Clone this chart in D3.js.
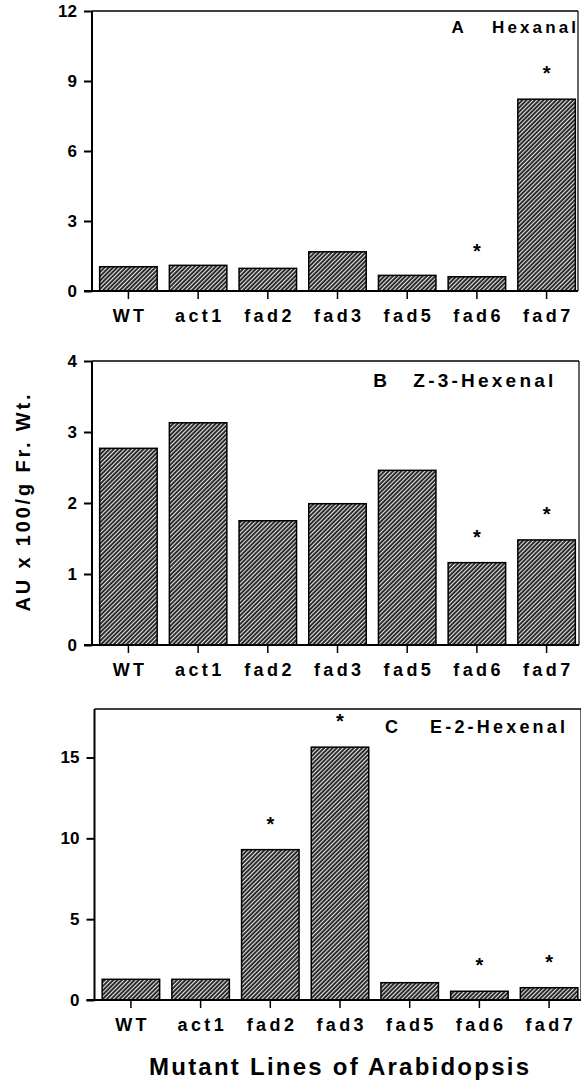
<!DOCTYPE html>
<html>
<head>
<meta charset="utf-8">
<script src="https://cdn.jsdelivr.net/npm/d3@7"></script>
<style>
  body { margin: 0; background: #fff; }
  svg { display: block; font-family: "Liberation Sans", Arial, Helvetica, sans-serif; font-weight: bold; }
</style>
</head>
<body>
<svg id="chart"></svg>
<script>
// mutant lines on the x axis
const categories = ["WT", "act1", "fad2", "fad3", "fad5", "fad6", "fad7"];

// AU x 100/g Fr. Wt.
const hexanal = [1.04, 1.10, 0.97, 1.68, 0.67, 0.61, 8.22];
const z3Hexenal = [2.77, 3.13, 1.75, 1.99, 2.46, 1.16, 1.48];
const e2Hexenal = [1.28, 1.28, 9.30, 15.64, 1.07, 0.54, 0.76];

// asterisks (significant difference)
const starsA = [false, false, false, false, false, true, true];
const starsB = [false, false, false, false, false, true, true];
const starsC = [false, false, true, true, false, true, true];

// y tick labels
const ticksA = [0, 3, 6, 9, 12];
const ticksB = [0, 1, 2, 3, 4];
const ticksC = [0, 5, 10, 15];

const width = 581;
const height = 1081;
const font = "'Liberation Sans', Arial, Helvetica, sans-serif";

const svg = d3.select("#chart")
    .attr("width", width)
    .attr("height", height);

// hatch pattern: dark bars with thin light diagonals
const defs = svg.append("defs");
const pat = defs.append("pattern")
    .attr("id", "hatch")
    .attr("patternUnits", "userSpaceOnUse")
    .attr("width", 3)
    .attr("height", 3)
    .attr("patternTransform", "rotate(45)");
pat.append("rect").attr("width", 3).attr("height", 3).attr("fill", "#1e1e1e");
pat.append("line")
    .attr("x1", 0.6).attr("y1", 0).attr("x2", 0.6).attr("y2", 3)
    .attr("stroke", "#f0f0f0").attr("stroke-width", 1.1);

const panels = [
    { values: hexanal, stars: starsA, ticks: ticksA, domain: [0, 12],
      left: 92, rangeEnd: 583, bottom: 291, top: 11, right: 578,
      letter: "A", name: "Hexanal", letterX: 451.5, nameX: 492, nameLen: 84, titleY: 33.3, titleSize: 17 },
    { values: z3Hexenal, stars: starsB, ticks: ticksB, domain: [0, 4],
      left: 92, rangeEnd: 583, bottom: 645, top: 361, right: 579,
      letter: "B", name: "Z-3-Hexenal", letterX: 373.3, nameX: 413.3, nameLen: 140, titleY: 386.7, titleSize: 19 },
    { values: e2Hexenal, stars: starsC, ticks: ticksC, domain: [0, 18],
      left: 94.5, rangeEnd: 585.5, bottom: 1000, top: 709, right: 581,
      letter: "C", name: "E-2-Hexenal", letterX: 385, nameX: 430, nameLen: 135, titleY: 732.7, titleSize: 18 }
];

panels.forEach(function (p) {
    const g = svg.append("g");

    const x = d3.scaleBand()
        .domain(categories)
        .range([p.left, p.rangeEnd])
        .paddingInner(0.175)
        .paddingOuter(0.11);

    const y = d3.scaleLinear()
        .domain(p.domain)
        .range([p.bottom, p.top]);

    const data = categories.map((c, i) => ({ cat: c, value: p.values[i], star: p.stars[i] }));

    // bars
    g.selectAll(".bar")
        .data(data)
        .enter()
        .append("rect")
        .attr("class", "bar")
        .attr("x", d => x(d.cat))
        .attr("y", d => y(d.value))
        .attr("width", x.bandwidth())
        .attr("height", d => y(0) - y(d.value))
        .attr("fill", "url(#hatch)")
        .attr("stroke", "#000")
        .attr("stroke-width", 1.5);

    // asterisks
    g.selectAll(".star")
        .data(data.filter(d => d.star))
        .enter()
        .append("text")
        .attr("class", "star")
        .attr("x", d => x(d.cat) + x.bandwidth() / 2)
        .attr("y", d => y(d.value) - 19)
        .attr("text-anchor", "middle")
        .style("font-size", "20px")
        .text("*");

    // frame (top and right)
    g.append("line")
        .attr("x1", p.left).attr("x2", p.right)
        .attr("y1", p.top).attr("y2", p.top)
        .attr("stroke", "#000").attr("stroke-width", 1.5);
    g.append("line")
        .attr("x1", p.right).attr("x2", p.right)
        .attr("y1", p.top).attr("y2", p.bottom)
        .attr("stroke", "#000").attr("stroke-width", 1.2);

    // y axis
    const ya = g.append("g")
        .attr("transform", `translate(${p.left}, 0)`)
        .attr("font-size", 17)
        .attr("font-family", font)
        .attr("font-weight", "bold")
        .call(d3.axisLeft(y).tickValues(p.ticks).tickFormat(d3.format("d")).tickSize(8).tickPadding(7));
    ya.attr("font-size", 17).attr("font-family", font).attr("font-weight", "bold");
    ya.select(".domain").remove();
    ya.selectAll("line").attr("stroke-width", 2);
    ya.selectAll("text").attr("fill", "#000");
    g.append("line")
        .attr("x1", p.left).attr("x2", p.left)
        .attr("y1", p.top).attr("y2", p.bottom)
        .attr("stroke", "#000").attr("stroke-width", 2);

    // x axis
    const xa = g.append("g")
        .attr("transform", `translate(0, ${p.bottom})`)
        .call(d3.axisBottom(x).tickSize(8).tickPadding(10));
    xa.attr("font-size", 18).attr("font-family", font).attr("font-weight", "bold");
    xa.select(".domain").remove();
    xa.selectAll("line").attr("stroke-width", 1.5);
    xa.selectAll("text")
        .attr("dx", "1.7")
        .style("letter-spacing", "3.4px")
        .attr("fill", "#000");
    g.append("line")
        .attr("x1", p.left - 8).attr("x2", p.right)
        .attr("y1", p.bottom).attr("y2", p.bottom)
        .attr("stroke", "#000").attr("stroke-width", 2);

    // panel title
    g.append("text")
        .attr("x", p.letterX)
        .attr("y", p.titleY)
        .style("font-size", p.titleSize + "px")
        .text(p.letter);
    g.append("text")
        .attr("x", p.nameX)
        .attr("y", p.titleY)
        .attr("textLength", p.nameLen)
        .attr("lengthAdjust", "spacing")
        .style("font-size", p.titleSize + "px")
        .text(p.name);
});

// shared axis titles
svg.append("text")
    .attr("transform", "translate(30, 503) rotate(-90)")
    .attr("text-anchor", "middle")
    .attr("textLength", 217)
    .attr("lengthAdjust", "spacing")
    .style("font-size", "20px")
    .text("AU x 100/g Fr. Wt.");

svg.append("text")
    .attr("x", 149)
    .attr("y", 1075)
    .attr("textLength", 380)
    .attr("lengthAdjust", "spacing")
    .style("font-size", "24px")
    .text("Mutant Lines of Arabidopsis");
</script>
</body>
</html>
